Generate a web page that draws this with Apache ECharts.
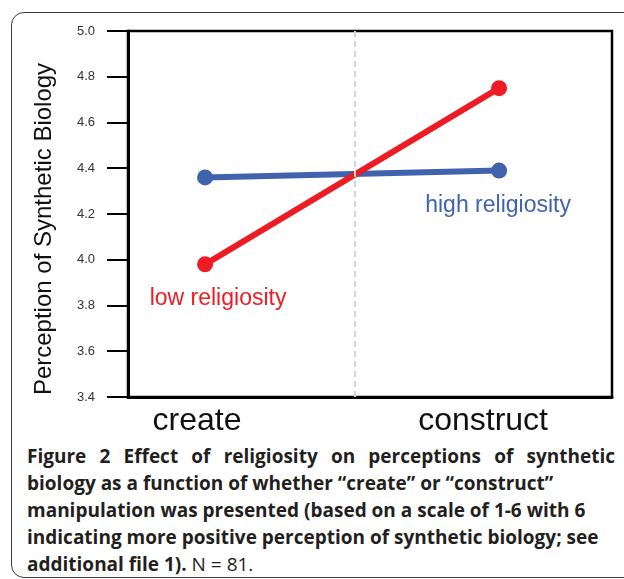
<!DOCTYPE html>
<html>
<head>
<meta charset="utf-8">
<script src="https://cdn.jsdelivr.net/npm/echarts@6/dist/echarts.min.js"></script>
<style>
  html, body { margin: 0; padding: 0; background: #fff; }
  body { width: 624px; height: 579px; position: relative; overflow: hidden; }
  #frame { position: absolute; left: 11px; top: 12px; width: 660px; height: 566px;
           border: 1.5px solid #3a3a3a; border-radius: 13px; box-sizing: border-box; }
  #chart { position: absolute; left: 0; top: 0; width: 624px; height: 440px; }
  #caption { position: absolute; left: 27px; top: 443px; width: 588px;
             font-family: "Open Sans", sans-serif; font-size: 19px; line-height: 27px;
             color: #231f20; font-weight: 700; }
  #caption div { white-space: nowrap; }
  #caption .just { text-align: justify; text-align-last: justify; }
  #caption .norm { font-weight: 400; }
</style>
</head>
<body>
<div id="frame"></div>
<div id="chart"></div>
<div id="caption">
  <div class="just">Figure 2 Effect of religiosity on perceptions of synthetic</div>
  <div>biology as a function of whether “create” or “construct”</div>
  <div>manipulation was presented (based on a scale of 1-6 with 6</div>
  <div>indicating more positive perception of synthetic biology; see</div>
  <div>additional file 1). <span class="norm">N = 81.</span></div>
</div>
<script>
// ---- data ----
const categories = ['create', 'construct'];
const lowReligiosity = [3.98, 4.75];
const highReligiosity = [4.36, 4.39];
const seriesNames = ['low religiosity', 'high religiosity'];
const yTicks = [3.4, 3.6, 3.8, 4.0, 4.2, 4.4, 4.6, 4.8, 5.0];
const yAxisTitle = 'Perception of Synthetic Biology';

const RED = '#ed1c24';
const BLUE = '#4163ae';

function pts(vals) { return vals.map((v, i) => [i, v]); }

const lowData = pts(lowReligiosity);
lowData[0] = {
  value: lowData[0],
  label: { show: true, position: 'inside', offset: [13, 34], formatter: seriesNames[0],
           color: RED, fontSize: 23, fontFamily: 'Liberation Sans, Arial, sans-serif' }
};
const highData = pts(highReligiosity);
highData[1] = {
  value: highData[1],
  label: { show: true, position: 'inside', offset: [-1, 35], formatter: seriesNames[1],
           color: BLUE, fontSize: 23, fontFamily: 'Liberation Sans, Arial, sans-serif' }
};

const chart = echarts.init(document.getElementById('chart'), null, { renderer: 'canvas' });
chart.setOption({
  animation: false,
  textStyle: { fontFamily: 'Liberation Sans, Arial, sans-serif' },
  grid: { left: 128, top: 31, right: 12, bottom: 43, show: true,
          borderColor: '#000', borderWidth: 2.5, backgroundColor: 'transparent' },
  xAxis: {
    type: 'value', min: -0.262, max: 1.384,
    splitLine: { show: false },
    axisTick: { show: false },
    axisLine: { show: true, onZero: false, lineStyle: { color: '#000', width: 3 } },
    axisLabel: {
      customValues: [0, 1],
      margin: 8,
      fontSize: 32, color: '#111',
      formatter: function (v) {
        const i = Math.round(v);
        return i === 0 ? '{a|' + categories[0] + '}' : '{b|' + categories[1] + '}';
      },
      rich: {
        a: { fontSize: 32, color: '#111', padding: [0, 16, 0, 0] },
        b: { fontSize: 32, color: '#111', padding: [0, 32, 0, 0] }
      }
    }
  },
  yAxis: {
    type: 'value', min: yTicks[0], max: yTicks[yTicks.length - 1], interval: 0.2,
    name: yAxisTitle, nameLocation: 'middle', nameGap: 72,
    nameTextStyle: { fontSize: 24, color: '#111', padding: [0, 0, 0, -30] },
    splitLine: { show: false },
    axisLine: { show: true, onZero: false, lineStyle: { color: '#000', width: 3 } },
    axisTick: { show: true, inside: false, length: 21, lineStyle: { color: '#000', width: 2 } },
    axisLabel: { margin: 33, fontSize: 13, color: '#333',
                 formatter: v => Number(v).toFixed(1) }
  },
  series: [
    {
      name: seriesNames[0], type: 'line', data: lowData,
      symbol: 'circle', symbolSize: 16,
      lineStyle: { color: RED, width: 6 }, itemStyle: { color: RED },
      z: 3,
      markLine: {
        silent: true, symbol: 'none', label: { show: false },
        lineStyle: { color: '#d4d4d4', type: [6, 4], width: 2 },
        data: [{ xAxis: 0.51 }]
      }
    },
    {
      name: seriesNames[1], type: 'line', data: highData,
      symbol: 'circle', symbolSize: 16,
      lineStyle: { color: BLUE, width: 6 }, itemStyle: { color: BLUE },
      z: 2
    }
  ]
});
</script>
</body>
</html>
